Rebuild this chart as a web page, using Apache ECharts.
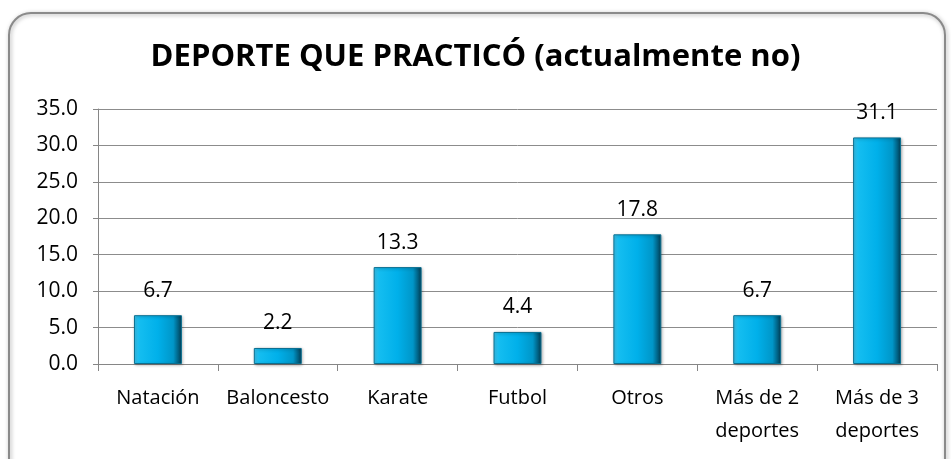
<!DOCTYPE html>
<html>
<head>
<meta charset="utf-8">
<script src="https://cdn.jsdelivr.net/npm/echarts@6/dist/echarts.min.js"></script>
<style>
  html, body { margin: 0; padding: 0; background: #fff; }
  #main { width: 951px; height: 459px; }
</style>
</head>
<body>
<div id="main"></div>
<script>
// datos del grafico
var categorias = ['Natación', 'Baloncesto', 'Karate', 'Futbol', 'Otros', 'Más de 2\ndeportes', 'Más de 3\ndeportes'];
var valores = [6.7, 2.2, 13.3, 4.4, 17.8, 6.7, 31.1];
var titulo = 'DEPORTE QUE PRACTICÓ (actualmente no)';

var myChart = echarts.init(document.getElementById('main'));

var fuente = 'Open Sans';

option = {
    backgroundColor: '#ffffff',
    animation: false,
    title: {
        text: titulo,
        left: 'center',
        top: 37,
        textStyle: {
            fontFamily: fuente,
            fontSize: 31,
            fontWeight: 'bold',
            color: '#000'
        }
    },
    graphic: [{
        type: 'rect',
        shape: { x: 9, y: 13, width: 936, height: 470, r: 22 },
        style: {
            fill: 'none',
            stroke: '#8a8a8a',
            lineWidth: 2,
            shadowBlur: 4,
            shadowColor: 'rgba(0,0,0,0.35)',
            shadowOffsetX: 1,
            shadowOffsetY: 1
        },
        z: -1
    }],
    grid: {
        left: 98,
        right: 14,
        top: 109,
        bottom: 95
    },
    xAxis: {
        type: 'category',
        data: categorias,
        axisLine: { lineStyle: { color: '#868686' } },
        axisTick: { show: true, length: 7, lineStyle: { color: '#868686' } },
        axisLabel: {
            interval: 0,
            margin: 18,
            fontFamily: fuente,
            fontSize: 20,
            color: '#000',
            lineHeight: 33
        }
    },
    yAxis: {
        type: 'value',
        min: 0,
        max: 35,
        interval: 5,
        axisLine: { show: true, lineStyle: { color: '#868686' } },
        axisTick: { show: true, length: 5, lineStyle: { color: '#868686' } },
        splitLine: { lineStyle: { color: '#8c8c8c' } },
        axisLabel: {
            formatter: function (v) { return v.toFixed(1); },
            margin: 20,
            fontFamily: fuente,
            fontSize: 21,
            color: '#000'
        }
    },
    series: [{
        type: 'bar',
        data: valores,
        barWidth: '40%',
        label: {
            show: true,
            position: 'top',
            distance: 14,
            formatter: function (p) { return p.value.toFixed(1); },
            fontFamily: fuente,
            fontSize: 21,
            color: '#000'
        },
        itemStyle: {
            color: new echarts.graphic.LinearGradient(0, 0, 1, 0, [
                { offset: 0, color: '#3cc8f2' },
                { offset: 0.12, color: '#14bdf0' },
                { offset: 0.5, color: '#00b0ea' },
                { offset: 0.82, color: '#0096c8' },
                { offset: 1, color: '#003b52' }
            ]),
            borderColor: '#0a6f90',
            borderWidth: 1,
            shadowBlur: 3,
            shadowColor: 'rgba(0,0,0,0.3)',
            shadowOffsetX: 1,
            shadowOffsetY: 1
        }
    }]
};

myChart.setOption(option);
</script>
</body>
</html>
